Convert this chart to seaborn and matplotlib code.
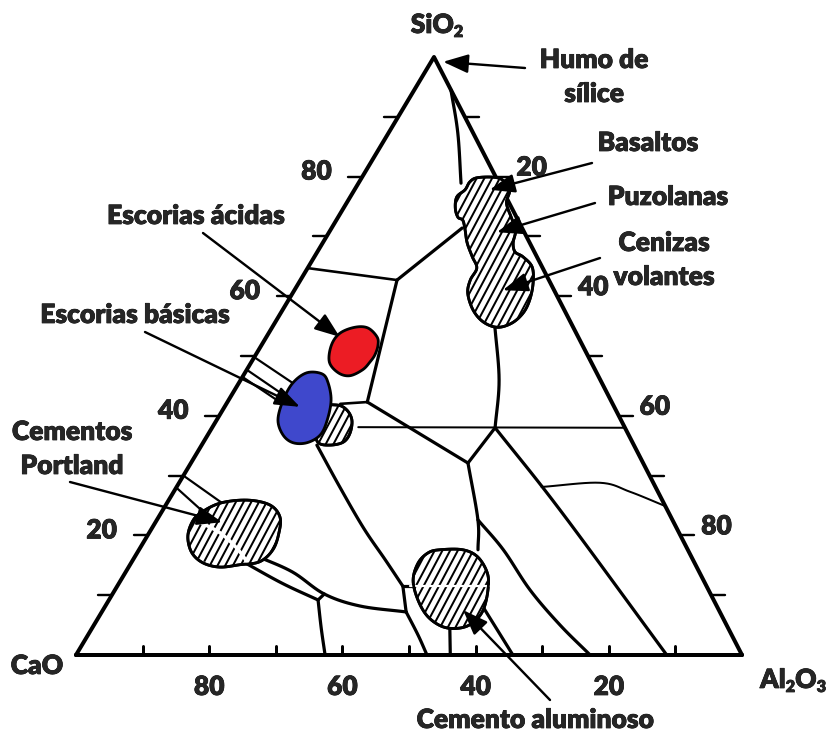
import numpy as np
import matplotlib
matplotlib.use("Agg")
import matplotlib.pyplot as plt
from matplotlib import font_manager as fm
from matplotlib import patheffects as pe
from matplotlib.patches import Polygon
from matplotlib.collections import LineCollection
import seaborn as sns

# ---------------------------------------------------------------------------
# CaO - SiO2 - Al2O3 system. Every composition is given as (SiO2 %, Al2O3 %);
# CaO is the remainder to 100 %.
# ---------------------------------------------------------------------------

# phase-field boundaries
bnd_silica_ridge = [(94.5, 5.5), (87.3, 10.4), (78.9, 15.4)]
bnd_upper_link = [(71.4, 19.6), (62.7, 14.5)]
bnd_upper_left = [(62.7, 14.5), (64.7, 0.0)]
bnd_upper_down = [(62.7, 14.5), (42.3, 21.0)]
bnd_mid_link = [(42.3, 21.0), (42.0, 17.1)]
bnd_mid_diag = [(42.3, 21.0), (32.1, 41.6)]
bnd_ash_down = [(55.2, 33.2), (46.0, 38.8), (38.0, 42.5)]
bnd_ash_link = [(38.0, 42.5), (32.1, 41.6)]
bnd_iso_38 = [(38.1, 21.9), (38.0, 62.0)]
bnd_long_diag = [(38.0, 42.5), (24.2, 59.7), (0.0, 88.7)]
bnd_right_arc = [(28.1, 54.8), (28.8, 63.2), (27.3, 68.5), (24.9, 75.1)]
bnd_alum_top = [(32.1, 41.6), (22.6, 48.2), (17.6, 50.9)]
bnd_alum_arc = [(22.6, 48.2), (17.6, 54.7), (10.9, 62.3), (5.0, 70.0), (0.0, 77.2)]
bnd_alum_right = [(8.4, 56.4), (4.2, 61.0), (0.0, 65.6)]
bnd_alum_foot = [(4.7, 53.6), (0.0, 56.2)]
bnd_slag_arc = [(35.1, 17.3), (28.1, 24.5), (21.2, 31.8), (15.9, 37.9), (11.5, 42.9)]
bnd_alum_left = [(11.5, 42.9), (11.5, 44.4)]
bnd_alum_step = [(11.5, 42.9), (7.2, 45.7)]
bnd_alum_base = [(7.2, 45.7), (3.3, 49.6), (0.0, 52.7)]
bnd_pc_low = [(15.6, 16.7), (12.0, 24.5), (9.2, 31.4)]
bnd_pc_high = [(16.6, 18.1), (13.9, 25.0), (10.2, 31.8), (8.2, 38.2), (7.2, 45.7)]
bnd_pc_join = [(9.2, 31.4), (10.2, 31.8)]
bnd_pc_base = [(9.2, 31.4), (4.5, 34.4), (0.0, 37.4)]

tie_portland = [
    [(30.0, 0.0), (25.4, 8.3)],
    [(28.0, 0.0), (23.7, 6.6)],
]
tie_basic_slag = [
    [(49.8, 0.0), (45.0, 9.0)],
    [(47.7, 0.0), (43.0, 8.7)],
    [(46.5, 0.0), (41.8, 8.8)],
]

# material domains
acid_slag = [(54.8, 12.4), (54.7, 14.4), (53.2, 16.6), (51.8, 17.5), (50.2, 17.9),
             (49.0, 17.8), (47.7, 17.4), (46.7, 16.0), (47.2, 14.0), (49.0, 11.7),
             (51.8, 10.5), (53.8, 10.7)]
basic_slag = [(47.2, 9.3), (47.0, 11.7), (45.5, 13.4), (42.6, 15.4), (39.3, 16.6),
              (36.8, 16.9), (35.5, 15.6), (35.5, 13.5), (36.8, 11.3), (39.3, 9.2),
              (42.6, 8.2), (45.5, 8.1)]
slag_tail = [(41.3, 14.4), (41.8, 16.7), (41.0, 18.6), (39.3, 20.3), (37.1, 21.2),
             (35.6, 21.0), (35.1, 19.3), (35.5, 17.3), (37.6, 15.7)]
portland = [(23.7, 5.9), (25.4, 8.0), (25.9, 11.8), (25.1, 15.6), (23.1, 18.2),
            (20.4, 19.5), (17.6, 20.1), (15.6, 19.2), (15.1, 16.5), (14.7, 13.7),
            (15.4, 10.8), (17.1, 8.2), (19.7, 6.2), (22.1, 5.5)]
portland_gap = [(22.2, 6.7), (20.4, 10.7), (17.9, 14.5), (15.6, 17.3)]
aluminous = [(17.6, 45.2), (17.6, 48.6), (16.4, 51.5), (13.7, 54.4), (10.9, 56.0),
             (7.5, 57.1), (5.4, 56.7), (4.5, 55.2), (4.7, 52.6), (6.4, 49.4),
             (9.2, 46.4), (12.5, 43.9), (15.4, 43.1), (17.1, 43.7)]
aluminous_gap = [(11.5, 44.0), (11.5, 56.0)]
pozzolans = [(79.8, 17.3), (79.9, 19.7), (79.4, 21.4), (77.8, 23.3), (75.6, 24.0),
             (73.2, 26.0), (71.1, 27.8), (68.9, 28.6), (67.4, 29.7), (66.6, 31.3),
             (64.9, 33.6), (62.2, 35.2), (59.4, 36.2), (57.2, 36.4), (55.5, 35.6),
             (54.8, 33.8), (55.7, 31.2), (57.7, 28.6), (60.5, 26.3), (62.7, 25.5),
             (64.7, 25.4), (66.6, 23.7), (68.9, 21.7), (71.1, 20.2), (72.7, 19.0),
             (73.2, 18.0), (74.7, 16.8), (76.6, 16.0), (77.8, 16.6), (79.1, 16.6)]

# arrow targets (SiO2 %, Al2O3 %)
target_fume = (99.2, 1.8)
target_basalt = (77.8, 20.3)
target_pozzolan = (70.7, 25.2)
target_ash = (61.0, 31.3)
target_acid = (53.2, 11.0)
target_basic = (41.5, 11.3)
target_portland = (22.2, 10.0)
target_aluminous = (7.5, 54.1)

# axis graduations
side_ticks = [10, 20, 30, 40, 50, 60, 70, 80, 90]
sio2_labels = [80, 60, 40, 20]
al2o3_labels = [20, 40, 60, 80]
cao_labels = [80, 60, 40, 20]

# ---------------------------------------------------------------------------


def heavy_font():
    """Boldest upright face of the first available humanist sans family."""
    for fam in ["Lato", "Open Sans", "Roboto", "Noto Sans", "Liberation Sans"]:
        faces = [f for f in fm.fontManager.ttflist
                 if f.name == fam and f.style == "normal"]
        if not faces:
            continue
        w = lambda f: f.weight if isinstance(f.weight, (int, float)) else \
            {"bold": 700, "heavy": 800, "black": 900}.get(str(f.weight), 400)
        bold = [f for f in faces if 650 <= w(f) <= 800]
        pick = max(bold, key=w) if bold else max(faces, key=w)
        return fm.FontProperties(fname=pick.fname), w(pick), fam
    return fm.FontProperties(family="DejaVu Sans", weight="bold"), 700, "DejaVu Sans"


sns.set_theme(style="white")
FONT, FONT_W, FAMILY = heavy_font()
plt.rcParams["font.family"] = [FAMILY, "DejaVu Sans"]
plt.rcParams["mathtext.fontset"] = "custom"
for key in ("rm", "it", "bf"):
    plt.rcParams["mathtext." + key] = FAMILY + ":bold"

W, H = 829, 732
fig = plt.figure(figsize=(W / 100, H / 100), dpi=100)
ax = fig.add_axes([0, 0, 1, 1])

# triangle corners on the page
P_CAO = np.array([76.0, 655.0])
P_AL = np.array([742.0, 655.0])
P_SI = np.array([434.0, 57.0])

PX = 72 / 100  # points per pixel


def to_xy(pts):
    a = np.asarray(pts, dtype=float).reshape(-1, 2)
    si = a[:, 0:1] / 100.0
    al = a[:, 1:2] / 100.0
    return P_CAO + (P_AL - P_CAO) * al + (P_SI - P_CAO) * si


def catmull(P, n=10, closed=False):
    P = np.asarray(P, dtype=float)
    if len(P) < 3 and not closed:
        return P
    if not closed:
        P = np.vstack([2 * P[0] - P[1], P, 2 * P[-1] - P[-2]])
        rng = range(1, len(P) - 2)
    else:
        rng = range(len(P))
    out = []
    N = len(P)
    t = np.linspace(0, 1, n, endpoint=False)[:, None]
    for i in rng:
        p0, p1, p2, p3 = P[i - 1], P[i], P[(i + 1) % N], P[(i + 2) % N]
        out.append(0.5 * (2 * p1 + (-p0 + p2) * t + (2 * p0 - 5 * p1 + 4 * p2 - p3) * t ** 2
                          + (-p0 + 3 * p1 - 3 * p2 + p3) * t ** 3))
    if not closed:
        out.append(P[-2][None, :])
    return np.vstack(out)


def draw_curve(pts, lw_px=3.0, color="black", z=3):
    xy = catmull(to_xy(pts))
    sns.lineplot(x=xy[:, 0], y=xy[:, 1], sort=False, estimator=None, color=color,
                 lw=lw_px * PX, ax=ax, zorder=z, solid_capstyle="round")


# triangle frame
frame = to_xy([(0, 0), (0, 100), (100, 0), (0, 0), (0, 100)])
sns.lineplot(x=frame[:, 0], y=frame[:, 1], sort=False, estimator=None, color="black",
             lw=4.0 * PX, ax=ax, zorder=4)

# graduations
for v in side_ticks:
    x, y = to_xy([(v, 0)])[0]
    ax.plot([x, x - 14], [y, y], color="black", lw=2.4 * PX, zorder=4)
    x, y = to_xy([(v, 100 - v)])[0]
    ax.plot([x, x + 14], [y, y], color="black", lw=2.4 * PX, zorder=4)
    x, y = to_xy([(0, v)])[0]
    ax.plot([x, x], [y, y - 9], color="black", lw=3.0 * PX, zorder=4)

# boundaries
thick = [bnd_silica_ridge, bnd_upper_link, bnd_upper_down, bnd_mid_diag, bnd_ash_down,
         bnd_ash_link, bnd_long_diag, bnd_alum_top, bnd_alum_arc, bnd_alum_right,
         bnd_alum_foot, bnd_slag_arc, bnd_alum_left, bnd_alum_step, bnd_alum_base,
         bnd_pc_low, bnd_pc_high, bnd_pc_join, bnd_pc_base]
for c in thick:
    draw_curve(c, lw_px=3.2)
for c in [bnd_upper_left, bnd_mid_link]:
    draw_curve(c, lw_px=2.6)
for c in [bnd_iso_38, bnd_right_arc]:
    draw_curve(c, lw_px=2.0)
for c in tie_portland + tie_basic_slag:
    draw_curve(c, lw_px=2.2)


def blob(pts, face, hatch=False, z=5):
    xy = catmull(to_xy(pts), n=8, closed=True)
    patch = Polygon(xy, closed=True, facecolor=face, edgecolor="black",
                    lw=2.8 * PX, zorder=z)
    ax.add_patch(patch)
    if hatch:
        th = np.deg2rad(62)
        d = np.array([np.cos(th), -np.sin(th)])
        nrm = np.array([np.sin(th), np.cos(th)])
        s = xy @ nrm
        segs = []
        for s0 in np.arange(s.min() + 2, s.max(), 6.8):
            c0 = s0 * nrm
            segs.append([c0 - 400 * d, c0 + 400 * d])
        lc = LineCollection(segs, colors="black", linewidths=2.0 * PX, zorder=z + 0.1)
        ax.add_collection(lc)
        lc.set_clip_path(patch)
        outline = Polygon(xy, closed=True, facecolor="none", edgecolor="black",
                          lw=2.8 * PX, zorder=z + 0.2)
        ax.add_patch(outline)
    return patch


blob(pozzolans, "white", hatch=True)
blob(slag_tail, "white", hatch=True)
blob(portland, "white", hatch=True)
blob(aluminous, "white", hatch=True)
blob(acid_slag, "#ec1c24", z=6)
blob(basic_slag, "#3f48cc", z=6)

for gap, lw in [(portland_gap, 3.5), (aluminous_gap, 2.2)]:
    xy = catmull(to_xy(gap))
    ax.plot(xy[:, 0], xy[:, 1], color="white", lw=lw * PX, zorder=5.15)

# text: embolden with a thin stroke when no true bold face is installed
FS = 19
effects = [pe.withStroke(linewidth=1.1 if FONT_W < 650 else 0.5, foreground="black")]


def label(x, y, s, **kw):
    ax.text(x, y, s, fontproperties=FONT, fontsize=FS, ha="center", va="center",
            zorder=10, path_effects=effects, **kw)


def chem(x, y, parts):
    """Formula with subscripts, e.g. [("Al", ""), ("O", "2")...] drawn piecewise."""
    t = ax.text(0, 0, "")
    items = []
    for base, sub in parts:
        items.append((base, FS))
        if sub:
            items.append((sub, FS * 0.62))
    r = fig.canvas.get_renderer()
    widths = []
    for s, size in items:
        tt = ax.text(0, 0, s, fontproperties=FONT, fontsize=size)
        widths.append(tt.get_window_extent(r).width)
        tt.remove()
    t.remove()
    x0 = x - sum(widths) / 2
    for (s, size), wdt in zip(items, widths):
        dy = 7 if size < FS else 0
        ax.text(x0, y + dy, s, fontproperties=FONT, fontsize=size, ha="left",
                va="center", zorder=10, path_effects=effects)
        x0 += wdt


chem(437, 25, [("SiO", "2")])
label(37, 666, "CaO")
chem(793, 680, [("Al", "2"), ("O", "3")])

for v in sio2_labels:
    x, y = to_xy([(v, 0)])[0]
    label(x - 46, y - 5, str(v))
for v in al2o3_labels:
    x, y = to_xy([(100 - v, v)])[0]
    label(x + 36, y - 9, str(v))
for v in cao_labels:
    x, y = to_xy([(0, 100 - v)])[0]
    label(x, y + 32, str(v))

callouts = [
    (["Humo de", "sílice"], (594, 60), target_fume, (525, 68)),
    (["Basaltos"], (648, 143), target_basalt, (592, 163)),
    (["Puzolanas"], (668, 197), target_pozzolan, (595, 203)),
    (["Cenizas", "volantes"], (664, 243), target_ash, (600, 258)),
    (["Escorias ácidas"], (196, 216), target_acid, (203, 233)),
    (["Escorias básicas"], (135, 315), target_basic, (145, 332)),
    (["Cementos", "Portland"], (72, 432), target_portland, (70, 482)),
    (["Cemento aluminoso"], (535, 720), target_aluminous, (550, 700)),
]
for lines, pos, tgt, tail in callouts:
    for k, line in enumerate(lines):
        label(pos[0], pos[1] + 34 * k, line)
    hx, hy = to_xy([tgt])[0]
    ax.annotate("", xy=(hx, hy), xytext=tail, zorder=9,
                arrowprops=dict(arrowstyle="-|>,head_length=0.85,head_width=0.32",
                                lw=2.4 * PX, color="black", shrinkA=0, shrinkB=0,
                                mutation_scale=18))

ax.set_xlim(0, W)
ax.set_ylim(H, 0)
ax.axis("off")
fig.savefig("out.png", dpi=100, facecolor="white")
